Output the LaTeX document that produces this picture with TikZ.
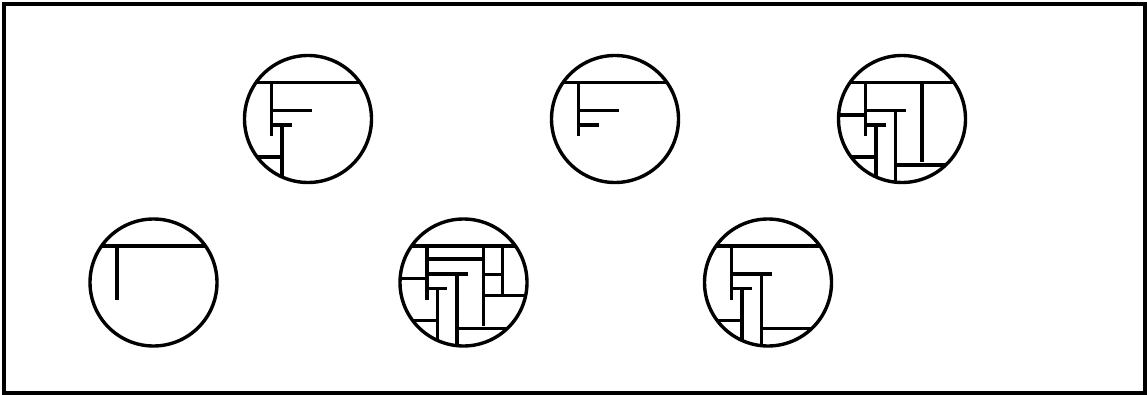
\documentclass[tikz,border=0pt]{standalone}
\tikzset{wall/.style={line width=3.6pt,line cap=butt},
  rim/.style={line width=3.4pt},
  frame/.style={line width=3.8pt}}
\newcommand\mazeCirc[3]{%
\begin{scope}[shift={(#1,#2)}]
\begin{scope}
\clip (0,0) circle (63.5pt);
% level 1
\draw[wall] (-80,-36.5) -- (80,-36.5);
\draw[wall] (-36.5,-36.5) -- (-36.5,17);
\ifnum#3>1
\draw[wall] (-36.5,-8.5) -- (4,-8.5);
\draw[wall] (-36.5,6) -- (-16.5,6);
\fi
\ifnum#3>2
\draw[wall] (-26,6) -- (-26,80);
\draw[wall] (-80,38) -- (-26,38);
\fi
\ifnum#3>3
\draw[wall] (-6.5,-8.5) -- (-6.5,80);
\draw[wall] (-6.5,46) -- (80,46);
\fi
\ifnum#3>4
\draw[wall] (-80,-4) -- (-36.5,-4);
\draw[wall] (20,-36.5) -- (20,43);
\fi
\ifnum#3>5
\draw[wall] (-36.5,-23.5) -- (20,-23.5);
\draw[wall] (39,-36.5) -- (39,11);
\draw[wall] (20,-8) -- (39,-8);
\draw[wall] (20,13) -- (80,13);
\fi
\end{scope}
\draw[rim] (0,0) circle (63.5pt);
\end{scope}}
\begin{document}
\begin{tikzpicture}[x=1pt,y=-1pt]
\useasboundingbox (0,0) rectangle (1147,395);
\draw[frame] (4,4) rectangle (1145,393);
\mazeCirc{308}{119}{3}
\mazeCirc{615}{119}{2}
\mazeCirc{902}{119}{5}
\mazeCirc{153.5}{282.5}{1}
\mazeCirc{463.5}{282.5}{6}
\mazeCirc{768}{282.5}{4}
\end{tikzpicture}
\end{document}
